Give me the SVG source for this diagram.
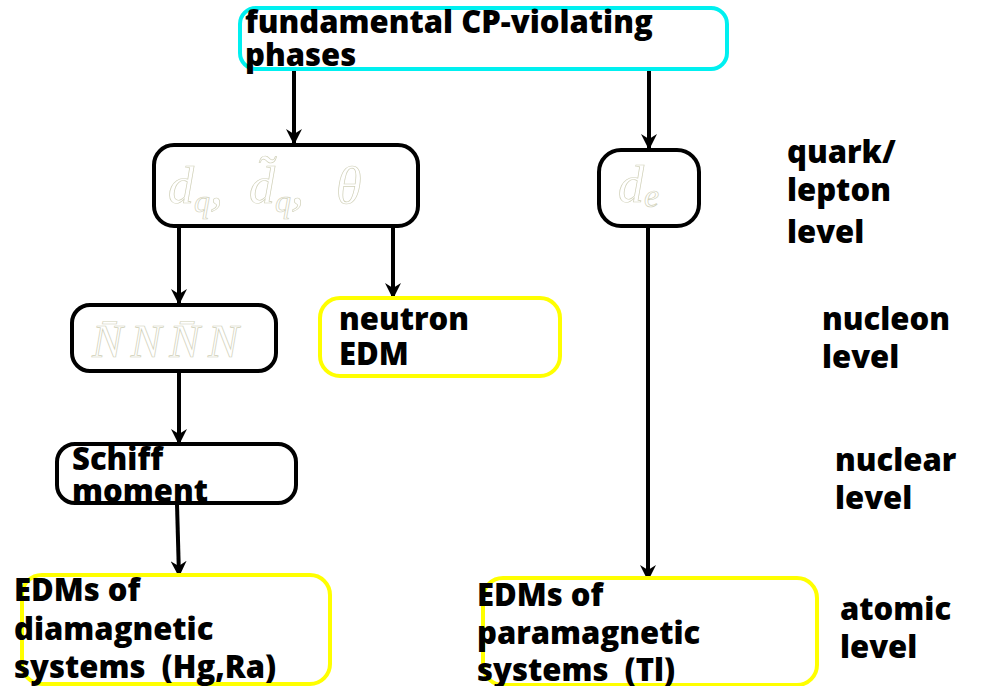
<svg xmlns="http://www.w3.org/2000/svg" width="982" height="686" viewBox="0 0 982 686">
<defs>
<style>
.t{font-family:"Open Sans","Lato","Liberation Sans",sans-serif;font-weight:800;font-size:31px;fill:#000;white-space:pre}
.bk{fill:#fff;stroke:#000;stroke-width:4}
.yl{fill:#fff;stroke:#ffff00;stroke-width:4}
.cy{fill:#fff;stroke:#00f0f0;stroke-width:4}
.m{font-family:"Liberation Serif","DejaVu Serif",serif;font-style:italic;fill:#fff;stroke:#d0d0b8;stroke-width:0.7}
.c{stroke:#000;stroke-width:4;fill:none;marker-end:url(#ah)}
</style>
<marker id="ah" viewBox="0 0 16 16" refX="15" refY="8" markerWidth="16" markerHeight="16" markerUnits="userSpaceOnUse" orient="auto">
<path d="M0,0 L16,8 L0,16 L5,8 Z" fill="#000"/>
</marker>
</defs>
<rect width="982" height="686" fill="#fff"/>
<g id="connectors">
<line class="c" x1="294" y1="70" x2="294" y2="144"/>
<line class="c" x1="649" y1="70" x2="649" y2="149"/>
<line class="c" x1="179" y1="227" x2="179" y2="304"/>
<line class="c" x1="393" y1="227" x2="393" y2="298"/>
<line class="c" x1="179" y1="372" x2="179" y2="444"/>
<line class="c" x1="177" y1="504" x2="179" y2="576"/>
<line class="c" x1="648" y1="227" x2="648" y2="580"/>
</g>
<g id="top">
<rect class="cy" x="240" y="8" width="487" height="61" rx="16"/>
<text class="t" x="245" y="33">fundamental CP-violating</text>
<text class="t" x="245" y="66">phases</text>
</g>
<g id="dq">
<rect class="bk" x="154" y="145" width="264" height="81" rx="20"/>
<text class="m" x="168" y="203" font-size="52">d<tspan font-size="32" dy="9">q</tspan><tspan dy="-9">,</tspan><tspan dx="26">d̃</tspan><tspan font-size="32" dy="9">q</tspan><tspan dy="-9">,</tspan><tspan dx="32">θ</tspan></text>
</g>
<g id="de">
<rect class="bk" x="599" y="150" width="100" height="76" rx="22"/>
<text class="m" x="618" y="202" font-size="52">d<tspan font-size="34" dy="5">e</tspan></text>
</g>
<g id="nnnn">
<rect class="bk" x="72" y="305" width="204" height="66" rx="18"/>
<text class="m" x="92" y="357" font-size="46" letter-spacing="8">N̄NN̄N</text>
</g>
<g id="neutron">
<rect class="yl" x="320" y="298" width="240" height="78" rx="20"/>
<text class="t" x="339" y="330">neutron</text>
<text class="t" x="339" y="365">EDM</text>
</g>
<g id="schiff">
<rect class="bk" x="57" y="444" width="239" height="59" rx="18"/>
<text class="t" x="72" y="470">Schiff</text>
<text class="t" x="72" y="502">moment</text>
</g>
<g id="dia">
<rect class="yl" x="22" y="575" width="308" height="109" rx="20"/>
<text class="t" x="14" y="601">EDMs of</text>
<text class="t" x="14" y="640">diamagnetic</text>
<text class="t" x="14" y="678" xml:space="preserve">systems  (Hg,Ra)</text>
</g>
<g id="para">
<rect class="yl" x="483" y="578" width="334" height="107" rx="20"/>
<text class="t" x="477" y="606">EDMs of</text>
<text class="t" x="477" y="644">paramagnetic</text>
<text class="t" x="477" y="681" xml:space="preserve">systems  (Tl)</text>
</g>
<g id="levels">
<text class="t" x="787" y="163">quark/</text>
<text class="t" x="787" y="201">lepton</text>
<text class="t" x="787" y="243">level</text>
<text class="t" x="822" y="330">nucleon</text>
<text class="t" x="822" y="368">level</text>
<text class="t" x="835" y="471">nuclear</text>
<text class="t" x="835" y="509">level</text>
<text class="t" x="840" y="620">atomic</text>
<text class="t" x="840" y="658">level</text>
</g>
</svg>
